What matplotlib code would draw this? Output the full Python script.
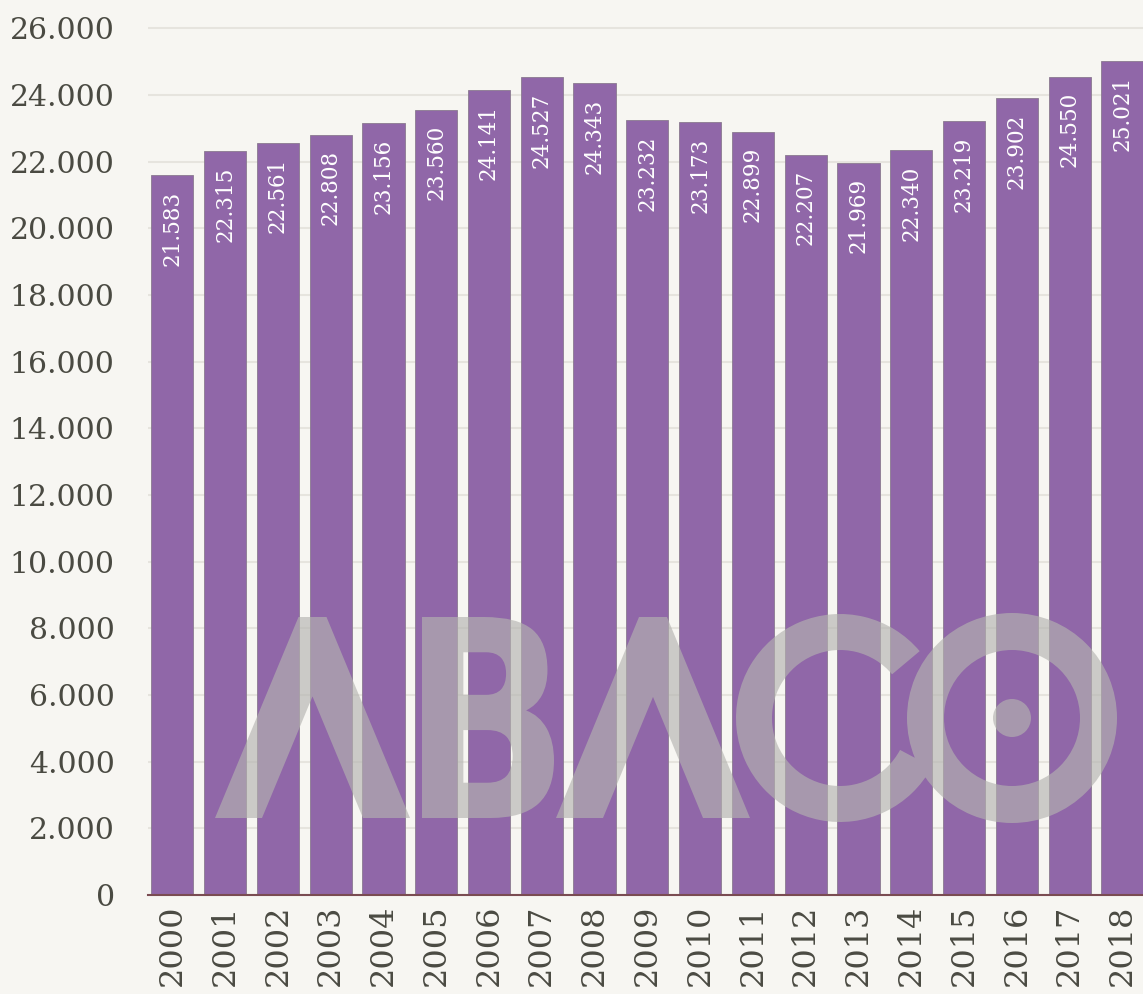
import matplotlib
matplotlib.use('Agg')
import matplotlib.pyplot as plt
from matplotlib.ticker import FuncFormatter, MultipleLocator
from matplotlib.patches import Polygon, Wedge, Circle, PathPatch
from matplotlib.path import Path
from matplotlib.textpath import TextPath
from matplotlib.font_manager import FontProperties
from matplotlib.transforms import Affine2D

years = ['2000', '2001', '2002', '2003', '2004', '2005', '2006', '2007', '2008', '2009',
         '2010', '2011', '2012', '2013', '2014', '2015', '2016', '2017', '2018']
values = [21583, 22315, 22561, 22808, 23156, 23560, 24141, 24527, 24343, 23232,
          23173, 22899, 22207, 21969, 22340, 23219, 23902, 24550, 25021]

bg = '#f7f6f2'
bar_color = '#9067a8'
text_color = '#4a4a42'
serif = 'DejaVu Serif'
W, H = 1143, 994


def dot_thousands(v, pos=None):
    return f'{int(v):,}'.replace(',', '.')


fig = plt.figure(figsize=(W / 100, H / 100), dpi=100, facecolor=bg)
ax = fig.add_axes([148 / W, 99 / H, 1 - 148 / W, 883.5 / H])
ax.set_facecolor(bg)

x = list(range(len(years)))
ax.bar(x, values, width=0.8, color=bar_color, edgecolor='#8a7a90', linewidth=0.6, zorder=2)

for xi, v in zip(x, values):
    ax.annotate(dot_thousands(v), (xi, v), xytext=(0, -11), textcoords='offset points',
                rotation=90, ha='center', va='top', color='white', fontsize=15.5,
                family=serif, zorder=3)

ax.set_xlim(-0.46, 18.39)
ax.set_ylim(0, 26500)
ax.yaxis.set_major_locator(MultipleLocator(2000))
ax.yaxis.set_major_formatter(FuncFormatter(dot_thousands))
ax.set_xticks(x)
ax.set_xticklabels(years, rotation=90, family=serif, fontsize=23, color=text_color)
for lbl in ax.get_yticklabels():
    lbl.set_family(serif)
ax.tick_params(axis='y', length=0, pad=24, labelsize=21.5, labelcolor=text_color)
ax.tick_params(axis='x', length=0, pad=7)
ax.grid(axis='y', color='#e6e4de', linewidth=1.5, zorder=0)
ax.set_axisbelow(True)
for s in ['top', 'right', 'left']:
    ax.spines[s].set_visible(False)
ax.spines['bottom'].set_color('#7a4c52')
ax.spines['bottom'].set_linewidth(1.5)
ax.spines['bottom'].set_zorder(4)

# watermark logo, drawn in pixel coordinates from the top-left corner
px = Affine2D().scale(1 / W, -1 / H).translate(0, 1) + fig.transFigure
wm = dict(facecolor='#b4b3b0', edgecolor='none', alpha=0.65, zorder=5, transform=px)
top, base = 617, 818


def lambda_shape(x0, x1, leg=47, flat=28):
    xm = (x0 + x1) / 2
    slope = (xm - flat / 2 - x0) / (base - top)
    yn = base - (x1 - x0 - 2 * leg) / (2 * slope)
    return [(x0, base), (xm - flat / 2, top), (xm + flat / 2, top), (x1, base),
            (x1 - leg, base), (xm, yn), (x0 + leg, base)]


for x0, x1 in [(215, 410), (556, 750)]:
    fig.patches.append(Polygon(lambda_shape(x0, x1), closed=True, **wm))

tp = TextPath((0, 0), 'B', size=1, prop=FontProperties(family='DejaVu Sans', weight='bold'))
ext = tp.get_extents()
bx0, bx1 = 422, 554
tr = (Affine2D().translate(-ext.x0, -ext.y0)
      .scale((bx1 - bx0) / ext.width, -(base - top) / ext.height)
      .translate(bx0, base))
fig.patches.append(PathPatch(tr.transform_path(tp), **wm))

# C (open to the right, lower arm running into the O) and O ring, merged so the overlap is not doubled
c_patch = Wedge((840, 718), 104, 28, 320, width=36)
o_patch = Wedge((1012, 718), 105, 0, 360, width=37)
c_ring = c_patch.get_patch_transform().transform_path(c_patch.get_path())
o_ring = o_patch.get_patch_transform().transform_path(o_patch.get_path())
fig.patches.append(PathPatch(Path.make_compound_path(c_ring, o_ring), **wm))
fig.patches.append(Circle((1012, 718), 19, **wm))

fig.savefig('out.png', dpi=100, facecolor=bg)
